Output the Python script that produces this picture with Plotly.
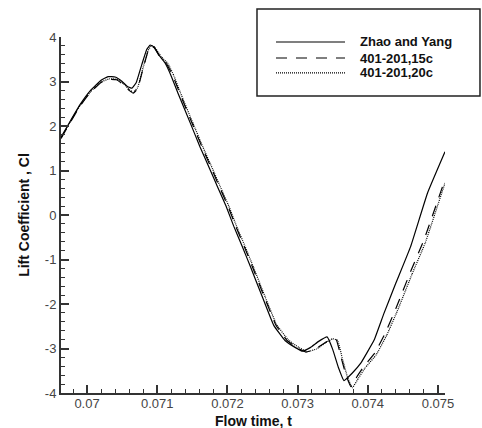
import plotly.graph_objects as go

# Zhao and Yang
t_zy = [0.06963, 0.06975, 0.06990, 0.07005, 0.07020, 0.07030, 0.07040, 0.07050, 0.07058, 0.07064,
        0.07070, 0.07078, 0.07085, 0.07090, 0.07095, 0.07103, 0.07111, 0.07120, 0.07129, 0.07147,
        0.07161, 0.07175, 0.07186, 0.07198, 0.07209, 0.07221, 0.07233, 0.07250, 0.07266, 0.07282, 0.07297,
        0.07307, 0.07318, 0.07330, 0.07342, 0.07350, 0.07358, 0.07366, 0.07378, 0.07390, 0.07409,
        0.07423, 0.07440, 0.07461, 0.07485, 0.07510]
cl_zy = [1.75, 2.08, 2.48, 2.80, 3.03, 3.11, 3.10, 3.00, 2.88, 2.85,
         2.97, 3.38, 3.72, 3.82, 3.78, 3.58, 3.42, 3.12, 2.76, 2.07,
         1.53, 1.03, 0.63, 0.20, -0.25, -0.70, -1.17, -1.85, -2.48, -2.82, -2.98,
         -3.06, -2.98, -2.84, -2.74, -3.02, -3.42, -3.72, -3.55, -3.33, -2.81,
         -2.21, -1.53, -0.71, 0.49, 1.42]

# 401-201,15c
t_15 = [0.06963, 0.06975, 0.06990, 0.07005, 0.07020, 0.07032, 0.07042, 0.07052, 0.07060, 0.07066,
        0.07072, 0.07080, 0.07087, 0.07092, 0.07097, 0.07105, 0.07114, 0.07123, 0.07132, 0.07150,
        0.07164, 0.07178, 0.07189, 0.07201, 0.07212, 0.07224, 0.07236, 0.07253, 0.07269, 0.07285, 0.07300,
        0.07312, 0.07325, 0.07338, 0.07348, 0.07355, 0.07362, 0.07369, 0.07376, 0.07385, 0.07394,
        0.07410, 0.07425, 0.07440, 0.07461, 0.07480, 0.07510]
cl_15 = [1.72, 2.05, 2.45, 2.76, 2.98, 3.05, 3.04, 2.93, 2.80, 2.74,
         2.84, 3.30, 3.68, 3.80, 3.74, 3.52, 3.38, 3.10, 2.74, 2.05,
         1.52, 1.02, 0.62, 0.19, -0.26, -0.71, -1.18, -1.86, -2.47, -2.82, -2.99,
         -3.08, -3.02, -2.88, -2.79, -2.80, -3.20, -3.60, -3.86, -3.62, -3.41,
         -3.10, -2.65, -2.10, -1.27, -0.56, 0.80]

# 401-201,20c
t_20 = [0.06963, 0.06975, 0.06990, 0.07005, 0.07020, 0.07032, 0.07042, 0.07052, 0.07060, 0.07066,
        0.07072, 0.07080, 0.07087, 0.07092, 0.07097, 0.07106, 0.07115, 0.07124, 0.07133, 0.07151,
        0.07165, 0.07179, 0.07190, 0.07202, 0.07213, 0.07225, 0.07237, 0.07254, 0.07270, 0.07287, 0.07302,
        0.07314, 0.07327, 0.07340, 0.07350, 0.07357, 0.07364, 0.07371, 0.07378, 0.07387, 0.07396,
        0.07412, 0.07427, 0.07442, 0.07463, 0.07482, 0.07510]
cl_20 = [1.73, 2.06, 2.46, 2.77, 2.99, 3.06, 3.05, 2.95, 2.82, 2.76,
         2.86, 3.32, 3.70, 3.81, 3.76, 3.55, 3.41, 3.12, 2.75, 2.06,
         1.53, 1.03, 0.63, 0.20, -0.25, -0.70, -1.17, -1.85, -2.46, -2.81, -2.98,
         -3.07, -3.01, -2.87, -2.78, -2.82, -3.24, -3.64, -3.88, -3.66, -3.44,
         -3.14, -2.70, -2.16, -1.33, -0.62, 0.72]

x_ticks = [0.07, 0.071, 0.072, 0.073, 0.074, 0.075]
x_tick_labels = ["0.07", "0.071", "0.072", "0.073", "0.074", "0.075"]
y_ticks = [-4, -3, -2, -1, 0, 1, 2, 3, 4]
y_tick_labels = ["-4", "-3", "-2", "-1", "0", "1", "2", "3", "4"]
series_names = ["Zhao and Yang", "401-201,15c", "401-201,20c"]

FONT = "Liberation Sans, Arial, sans-serif"
dashes = ["solid", "11px,9px", "1px,1px"]

fig = go.Figure()
for (tx, cy), name, d in zip([(t_zy, cl_zy), (t_15, cl_15), (t_20, cl_20)], series_names, dashes):
    fig.add_trace(go.Scatter(x=tx, y=cy, mode="lines", name=name, showlegend=False,
                             line=dict(color="black", width=1.2, dash=d, shape="spline", smoothing=0.3)))

fig.update_layout(
    width=482, height=428,
    margin=dict(l=61, r=37, t=37, b=35),
    paper_bgcolor="white", plot_bgcolor="white",
    font=dict(family=FONT, color="#333"),
    xaxis=dict(range=[0.069629, 0.0751], tickvals=x_ticks, ticktext=x_tick_labels,
               automargin=False,
               showgrid=False, zeroline=False, showline=True, linecolor="#333", linewidth=2,
               ticks="inside", ticklen=8, tickwidth=1.5, tickcolor="#333",
               tickfont=dict(size=13, color="#444"), ticklabelstandoff=-3,
               minor=dict(dtick=0.0002, tick0=0.07, ticks="inside", ticklen=4, tickwidth=1.2, tickcolor="#333")),
    yaxis=dict(range=[-4, 4], tickvals=y_ticks, ticktext=y_tick_labels,
               automargin=False,
               showgrid=False, zeroline=False, showline=True, linecolor="#333", linewidth=2,
               ticks="inside", ticklen=8, tickwidth=1.5, tickcolor="#333",
               tickfont=dict(size=13, color="#444"),
               minor=dict(dtick=0.2, tick0=0, ticks="inside", ticklen=4, tickwidth=1.2, tickcolor="#333"),
               title=dict(text="<b>Lift Coefficient , Cl</b>", font=dict(size=14, color="#111"), standoff=12)),
)

# x-axis title
fig.add_annotation(xref="paper", yref="paper", x=0.5, y=-0.079, xanchor="center", yanchor="middle",
                   text="<b>Flow time, t</b>", showarrow=False, font=dict(size=14, color="#111", family=FONT))

# legend box drawn manually
fig.add_shape(type="rect", xref="paper", yref="paper", x0=0.5104, x1=1.0911, y0=0.8343, y1=1.0787,
              line=dict(color="#222", width=1.5), fillcolor="white", layer="above")
ys = [0.986, 0.941, 0.899]
for name, d, yy in zip(series_names, dashes, ys):
    fig.add_shape(type="line", xref="paper", yref="paper", x0=0.5599, x1=0.7396, y0=yy, y1=yy,
                  line=dict(color="black", width=1.2, dash=d), layer="above")
    fig.add_annotation(xref="paper", yref="paper", x=0.7734, y=yy, xanchor="left", yanchor="middle",
                       text="<b>" + name + "</b>", showarrow=False, font=dict(size=13, color="#111", family=FONT))

fig.write_html("out.html")
